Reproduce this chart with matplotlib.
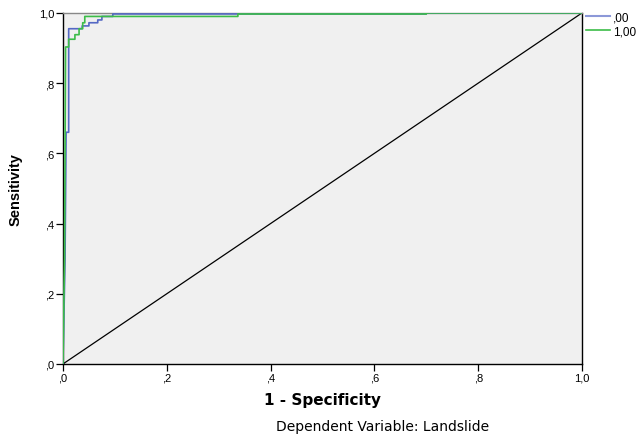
import matplotlib
matplotlib.use("Agg")
import matplotlib.pyplot as plt
from matplotlib.lines import Line2D

plt.rcParams['font.family'] = ['Liberation Sans', 'DejaVu Sans']

# ROC curve coordinates (1 - specificity, sensitivity)
fpr_00 = [0.0, 0.004, 0.006, 0.011, 0.011, 0.037, 0.037, 0.050, 0.050, 0.067, 0.067,
          0.075, 0.075, 0.096, 0.096, 0.700, 0.700, 1.0]
tpr_00 = [0.0, 0.300, 0.660, 0.660, 0.955, 0.955, 0.963, 0.963, 0.972, 0.972, 0.980,
          0.980, 0.990, 0.990, 0.997, 0.997, 1.000, 1.0]

fpr_100 = [0.0, 0.003, 0.005, 0.011, 0.011, 0.023, 0.023, 0.031, 0.031, 0.038, 0.038,
           0.042, 0.042, 0.337, 0.337, 0.700, 0.700, 1.0]
tpr_100 = [0.0, 0.300, 0.903, 0.903, 0.925, 0.925, 0.938, 0.938, 0.955, 0.955, 0.972,
           0.972, 0.990, 0.990, 0.997, 0.997, 1.000, 1.0]

ref_line = [0.0, 1.0]
tick_vals = [0.0, 0.2, 0.4, 0.6, 0.8, 1.0]
tick_labels = [",0", ",2", ",4", ",6", ",8", "1,0"]
series_names = [",00", "1,00"]
blue = "#5468c4"
green = "#3cbc48"

fig = plt.figure(figsize=(6.4, 4.35), dpi=100)
ax = fig.add_axes([0.0984, 0.161, 0.8110, 0.807])
ax.set_facecolor("#f0f0f0")

ax.plot(ref_line, ref_line, color="black", lw=0.9, zorder=2)
ax.plot(fpr_00, tpr_00, color=blue, lw=1.2, zorder=3)
ax.plot(fpr_100, tpr_100, color=green, lw=1.2, zorder=4)

ax.set_xlim(0, 1)
ax.set_ylim(0, 1)
ax.set_xticks(tick_vals)
ax.set_xticklabels(tick_labels, fontsize=8)
ax.set_yticks(tick_vals)
ax.set_yticklabels(tick_labels, fontsize=8)
ax.tick_params(direction="out", length=5, width=0.9, pad=1, color="black")
for s in ax.spines.values():
    s.set_color("black")
    s.set_linewidth(1.0)
ax.spines["top"].set_color("#888888")

ax.set_xlabel("1 - Specificity", fontsize=11, fontweight="bold",
              family="DejaVu Sans", labelpad=7)
ax.set_ylabel("Sensitivity", fontsize=10.5, fontweight="bold")
ax.yaxis.set_label_coords(-0.078, 0.5)

handles = [Line2D([0], [0], color="#8c98d8", lw=1.5),
           Line2D([0], [0], color=green, lw=1.2)]
fig.legend(handles, series_names, loc="upper left", bbox_to_anchor=(0.9156, 0.971),
           frameon=False, fontsize=8.5, handlelength=2.0, handletextpad=0.3,
           labelspacing=0.12, borderpad=0, borderaxespad=0)

fig.text(0.598, 0.018, "Dependent Variable: Landslide", fontsize=10,
         family="DejaVu Sans", ha="center", va="center")

fig.savefig("out.png", dpi=100)
